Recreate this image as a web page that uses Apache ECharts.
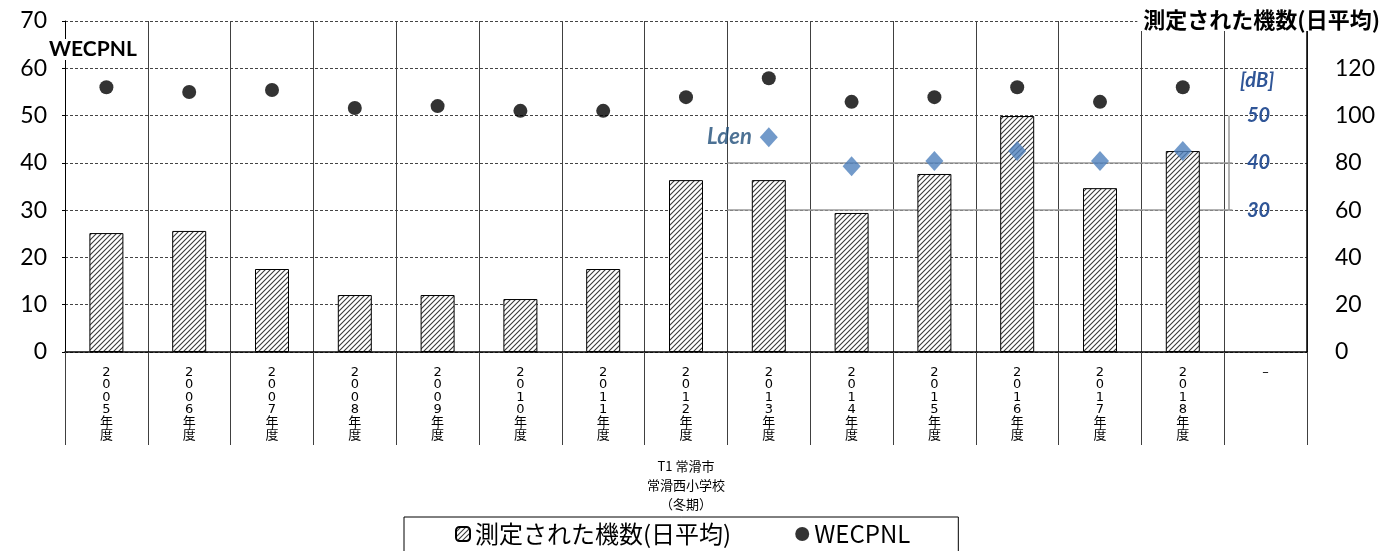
<!DOCTYPE html>
<html><head><meta charset="utf-8">
<script src="https://cdn.jsdelivr.net/npm/echarts@6/dist/echarts.min.js"></script>
<style>html,body{margin:0;padding:0;background:#fff}#c{width:1396px;height:551px}</style>
</head><body><div id="c"></div>
<script>
const categories = ['2005年度','2006年度','2007年度','2008年度','2009年度','2010年度','2011年度','2012年度','2013年度','2014年度','2015年度','2016年度','2017年度','2018年度','–'];
const groupLabel = 'T1 常滑市\n常滑西小学校\n（冬期）';
const flights = [50.3, 51.2, 35.1, 24.1, 24.1, 22.4, 35.1, 72.7, 72.7, 58.8, 75.3, 99.8, 69.3, 85.0, null];
const wecpnl = [56.0, 55.0, 55.4, 51.6, 52.0, 51.0, 51.0, 53.9, 57.9, 52.9, 53.9, 56.0, 52.9, 56.0, null];
const lden = [null, null, null, null, null, null, null, null, 45.4, 39.3, 40.4, 42.5, 40.4, 42.5, null];
const leftTicks = {min: 0, max: 70, interval: 10};
const rightTicks = {min: 0, max: 140, interval: 20};
const dbTicks = [30, 40, 50];
// inset frame of the Lden [dB] scale, in (category-slot, dB) units
const insetLines = [
  [[8, 30], [14.1, 30]],
  [[8, 40], [14.1, 40]],
  [[14.05, 30], [14.05, 50]]
];

const pc = document.createElement('canvas');
pc.width = 5; pc.height = 5;
const g = pc.getContext('2d');
g.fillStyle = '#fff'; g.fillRect(0,0,5,5);
g.strokeStyle = '#3a3a3a'; g.lineWidth = 1.1;
g.beginPath();
g.moveTo(-1,6); g.lineTo(6,-1);
g.moveTo(-1,1); g.lineTo(1,-1);
g.moveTo(4,6); g.lineTo(6,4);
g.stroke();
const hatch = {image: pc, repeat: 'repeat'};

const jp = '"Noto Sans CJK JP", "Noto Sans", sans-serif';
const lab = '"DejaVu Sans", "Noto Sans CJK JP", sans-serif';
const num = 'Lato, "Noto Sans", sans-serif';
const blue = '#2F5597';

const chart = echarts.init(document.getElementById('c'), null, {renderer: 'canvas'});
chart.setOption({
  animation: false,
  backgroundColor: '#fff',
  title: [
    {text: '測定された機数(日平均)', right: 14, top: 9, backgroundColor: '#fff', padding: [0, 2, 0, 6],
     textStyle: {fontFamily: jp, fontSize: 22, fontWeight: 'bold', color: '#000'}},
    {text: 'WECPNL', left: 49, top: 39, backgroundColor: '#fff', padding: [0, 4, 0, 0],
     textStyle: {fontFamily: num, fontSize: 21, fontWeight: 'bold', color: '#000'}},
    {text: '[dB]', left: 1240, top: 71, padding: 0,
     textStyle: {fontFamily: num, fontSize: 20, fontWeight: 'bold', fontStyle: 'italic', color: blue}}
  ],
  grid: {left: 65, right: 89, top: 21, bottom: 199, containLabel: false},
  legend: {
    data: ['測定された機数(日平均)', 'WECPNL'],
    left: 404, top: 517,
    padding: [5, 48, 20, 51],
    itemGap: 64, itemWidth: 14, itemHeight: 14,
    borderColor: '#000', borderWidth: 1, backgroundColor: '#fff',
    textStyle: {fontFamily: jp, fontSize: 24, color: '#000'}
  },
  xAxis: [
    {type: 'category', data: categories, position: 'bottom', boundaryGap: true,
     axisLine: {show: true, lineStyle: {color: '#000', width: 1.5}},
     axisTick: {show: true, length: 93, interval: 0, lineStyle: {color: '#404040'}},
     splitLine: {show: true, interval: 0, lineStyle: {color: '#404040', width: 1}},
     axisLabel: {interval: 0, margin: 14, fontFamily: lab, fontSize: 13, lineHeight: 12.6, color: '#000',
       formatter: v => v.split('').join('\n')}},
    {type: 'category', data: [groupLabel], position: 'bottom', offset: 93, boundaryGap: true,
     axisLine: {show: false},
     axisTick: {show: true, length: 72, lineStyle: {color: '#404040'}},
     splitLine: {show: false},
     axisLabel: {margin: 12, fontFamily: jp, fontSize: 13, lineHeight: 19, color: '#000'}},
    {type: 'value', min: 0, max: categories.length, show: false, position: 'top'}
  ],
  yAxis: [
    {type: 'value', position: 'left', min: leftTicks.min, max: leftTicks.max, interval: leftTicks.interval,
     axisLine: {show: true, lineStyle: {color: '#000', width: 1}},
     axisTick: {show: true, length: 3, lineStyle: {color: '#000'}},
     axisLabel: {margin: 18, fontFamily: num, fontSize: 23, color: '#000'},
     splitLine: {show: true, lineStyle: {color: '#444', width: 1, type: [3, 2]}}},
    {type: 'value', position: 'right', min: rightTicks.min, max: rightTicks.max, interval: rightTicks.interval,
     axisLine: {show: true, lineStyle: {color: '#000', width: 1.5}},
     axisTick: {show: false},
     axisLabel: {margin: 28, fontFamily: num, fontSize: 23, color: '#000'},
     splitLine: {show: false}},
    {type: 'value', position: 'right', offset: -79, min: leftTicks.min, max: leftTicks.max, interval: leftTicks.interval,
     axisLine: {show: false}, axisTick: {show: false}, splitLine: {show: false},
     axisLabel: {margin: 19, fontFamily: num, fontSize: 20, fontWeight: 'bold', fontStyle: 'italic', color: blue,
       formatter: v => dbTicks.includes(v) ? String(v) : ''}}
  ],
  series: [
    {name: 'inset', type: 'lines', coordinateSystem: 'cartesian2d', xAxisIndex: 2, yAxisIndex: 0, silent: true,
     z: 1, lineStyle: {color: '#9a9a9a', width: 1.5, opacity: 1},
     data: insetLines.map(c => ({coords: c}))},
    {name: '測定された機数(日平均)', type: 'bar', xAxisIndex: 0, yAxisIndex: 1, data: flights, barWidth: 34, z: 2,
     itemStyle: {color: hatch, borderColor: '#000', borderWidth: 1}},
    {name: 'WECPNL', type: 'scatter', xAxisIndex: 0, yAxisIndex: 0, data: wecpnl, symbol: 'circle', symbolSize: 14, z: 3,
     itemStyle: {color: '#000'}},
    {name: 'Lden', type: 'scatter', xAxisIndex: 0, yAxisIndex: 0, z: 3,
     data: lden.map((v, i) => i === 8 ? {value: v, label: {show: true}} : v),
     symbol: 'diamond', symbolSize: [18, 20], itemStyle: {color: '#4F81BD'},
     label: {show: false, position: 'left', distance: 8, formatter: 'Lden', fontFamily: num, fontSize: 22,
       fontWeight: 'bold', fontStyle: 'italic', color: '#1F4E79'}}
  ]
});
</script>
</body></html>
